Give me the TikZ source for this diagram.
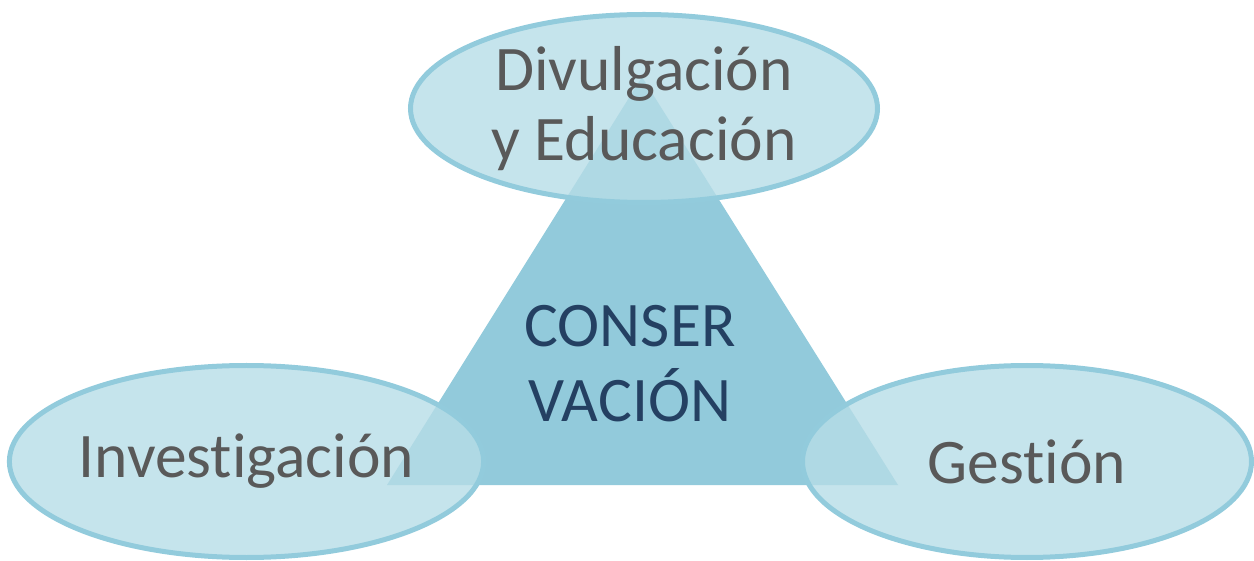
\documentclass[tikz,border=0pt]{standalone}
\usepackage{fontspec}
\setmainfont{Carlito}[Ligatures={NoCommon}]
\definecolor{SkyEdge}{RGB}{146,203,220}
\definecolor{SkyFill}{RGB}{183,221,231}
\definecolor{SkyCore}{RGB}{146,202,219}
\definecolor{SlateText}{RGB}{89,89,89}
\definecolor{NavyText}{RGB}{36,64,98}
\usetikzlibrary{shapes.geometric}

\begin{document}
\begin{tikzpicture}[x=1pt, y=-1pt,
    every node/.style={font=\fontsize{63.5}{70}\selectfont, text=SlateText},
    area/.style={draw=SkyEdge, line width=5pt, ellipse, fill=SkyFill, fill opacity=0.8, text opacity=1, inner sep=0pt, align=center}]
    \useasboundingbox (0,0) rectangle (1254,561);

    % central triangle
    \coordinate (apex) at (642,77);
    \coordinate (baseL) at (387,485);
    \coordinate (baseR) at (898,485);
    \fill[SkyCore] (apex) -- (baseL) -- (baseR) -- cycle;
    \node[text=NavyText, align=center, font=\fontsize{63.5}{75}\selectfont] (core) at (630,364) {CONSER\\VACIÓN};

    % the three areas
    \node[area, minimum width=467pt, minimum height=188pt] (edu) at (644,108.5) {Divulgación\\y Educación};
    \node[area, minimum width=462pt, minimum height=192pt] (inv) at (246.5,461.5) {Investigación};
    \node[area, minimum width=449pt, minimum height=192pt] (gest) at (1027,461.5) {Gestión};
\end{tikzpicture}
\end{document}
